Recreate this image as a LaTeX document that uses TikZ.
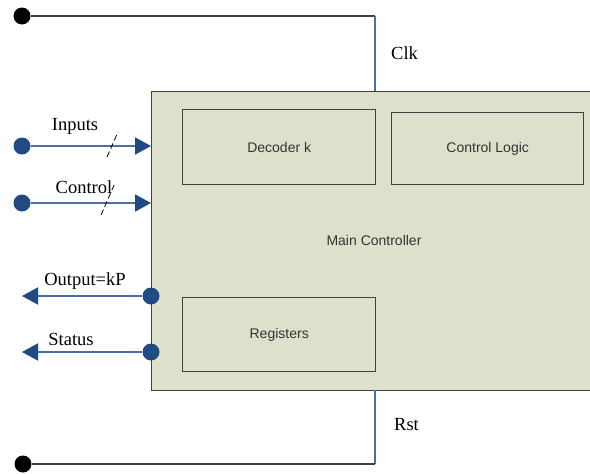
\documentclass[tikz,border=0pt]{standalone}
\usepackage{fontspec}
\setmainfont{Liberation Serif}
\setsansfont{Liberation Sans}
\usetikzlibrary{arrows.meta}
\definecolor{boxfill}{HTML}{DDE1CB}
\definecolor{wireblue}{HTML}{4A6FA5}
\definecolor{dotblue}{HTML}{1F4A82}
\definecolor{edgegray}{HTML}{404040}
\tikzset{
  px/.style={x=1pt,y=-1pt},
  blk/.style={draw=edgegray,line width=1.4pt,fill=boxfill,inner sep=0pt},
  blktext/.style={font=\sffamily\fontsize{14}{16}\selectfont,text=black!80},
  lbl/.style={font=\fontsize{18.5}{20}\selectfont,inner sep=0pt},
  bdot/.style={circle,fill=black,inner sep=0pt,minimum size=17pt},
  udot/.style={circle,fill=dotblue,inner sep=0pt,minimum size=17pt},
  wire/.style={draw=wireblue,line width=1.8pt},
  arr/.style={wire,-{Triangle[length=16pt,width=17pt,fill=dotblue,color=dotblue]}},
  bus/.style={draw=black,line width=0.8pt,dash pattern=on 6pt off 3pt},
}
\begin{document}
\begin{tikzpicture}[px]
\useasboundingbox (0,0) rectangle (590,474);
% main block
\node[blk,minimum width=440pt,minimum height=299pt,anchor=north west] (main) at (151,91) {};
\node[blktext] (mainlbl) at (374,240) {Main Controller};
\node[blk,minimum width=193pt,minimum height=75pt,anchor=north west] (dec) at (182,109) {};
\node[blktext] at (dec.center) {Decoder k};
\node[blk,minimum width=192pt,minimum height=72pt,anchor=north west] (ctl) at (391,112) {};
\node[blktext] at (ctl.center) {Control Logic};
\node[blk,minimum width=193pt,minimum height=74pt,anchor=north west] (reg) at (182,297) {};
\node[blktext] at (reg.center) {Registers};
% clock
\node[bdot] (clkdot) at (22,16) {};
\coordinate (clkc) at (375,16);
\coordinate (clkin) at (375,91);
\draw[draw=edgegray,line width=1.4pt] (clkdot) -- (clkc);
\draw[wire,line width=1.3pt] (clkc) -- (clkin);
\node[lbl,anchor=west] (clk) at (391,53) {Clk};
% reset
\node[bdot] (rstdot) at (23,464) {};
\coordinate (rstc) at (375,464);
\coordinate (rstout) at (375,390);
\draw[wire,line width=1.3pt] (rstout) -- (rstc);
\draw[draw=edgegray,line width=1.4pt] (rstc) -- (rstdot);
\node[lbl,anchor=west] (rst) at (394,425) {Rst};
% inputs
\node[udot] (indot) at (22,146) {};
\coordinate (inend) at (151,146);
\draw[arr] (indot) -- (inend);
\node[lbl] (inlbl) at (75,126) {Inputs};
\coordinate (ins1) at (107,157);
\coordinate (ins2) at (118,132);
\draw[bus] (ins1) -- (ins2);
% control
\node[udot] (cdot) at (22,203) {};
\coordinate (cend) at (151,203);
\draw[arr] (cdot) -- (cend);
\node[lbl] (clbl) at (84,187) {Control};
\coordinate (cs1) at (101,215);
\coordinate (cs2) at (115,183);
\draw[bus] (cs1) -- (cs2);
% output
\node[udot] (odot) at (151,296) {};
\coordinate (oend) at (22,296);
\draw[arr] (odot) -- (oend);
\node[lbl] (olbl) at (85,281) {Output=kP};
% status
\node[udot] (sdot) at (151,352) {};
\coordinate (send) at (22,352);
\draw[arr] (sdot) -- (send);
\node[lbl] (slbl) at (71,339) {Status};
\end{tikzpicture}
\end{document}
